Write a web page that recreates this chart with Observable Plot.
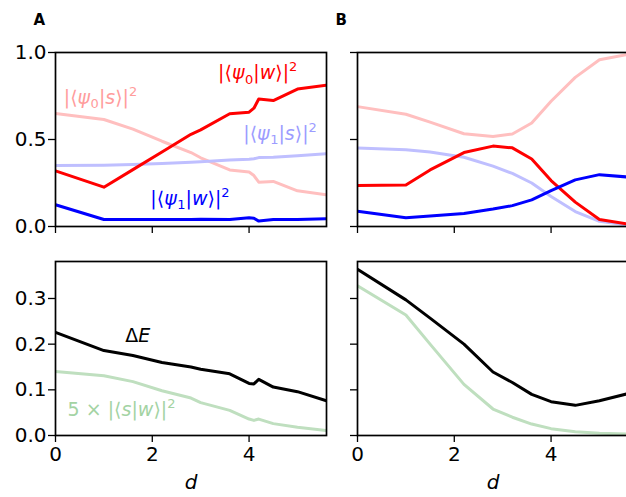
<!DOCTYPE html>
<html><head><meta charset="utf-8">
<script src="https://cdn.jsdelivr.net/npm/d3@7"></script>
<script src="https://cdn.jsdelivr.net/npm/@observablehq/plot@0.6"></script>
<style>
body{margin:0;background:#fff;}
#fig{position:relative;width:626px;height:497px;overflow:hidden;background:#fff;}
#fig svg{position:absolute;overflow:visible;}
</style></head><body><div id="fig"></div>
<script>
// ---- data ----
const xA = [0, 1, 1.6, 2.2, 2.8, 3.0, 3.6, 4.0, 4.1, 4.2, 4.5, 5.0, 5.6];
const A_psi0w = [0.32, 0.226, 0.327, 0.428, 0.53, 0.555, 0.648, 0.657, 0.68, 0.733, 0.724, 0.79, 0.812];
const A_psi0s = [0.65, 0.615, 0.56, 0.49, 0.425, 0.395, 0.325, 0.313, 0.293, 0.255, 0.259, 0.205, 0.182];
const A_psi1s = [0.351, 0.352, 0.356, 0.362, 0.369, 0.372, 0.382, 0.387, 0.389, 0.396, 0.398, 0.407, 0.418];
const A_psi1w = [0.125, 0.040, 0.040, 0.040, 0.040, 0.041, 0.040, 0.050, 0.047, 0.031, 0.040, 0.040, 0.045];
const A_dE = [0.226, 0.186, 0.175, 0.160, 0.150, 0.145, 0.135, 0.114, 0.113, 0.123, 0.106, 0.096, 0.076];
const A_sw5 = [0.140, 0.131, 0.118, 0.098, 0.082, 0.072, 0.055, 0.036, 0.033, 0.036, 0.026, 0.018, 0.011];

const xB = [0, 1, 1.5, 2.2, 2.8, 3.2, 3.6, 4.0, 4.5, 5.0, 5.6];
const B_psi0s = [0.689, 0.645, 0.600, 0.533, 0.517, 0.532, 0.595, 0.720, 0.857, 0.958, 0.990];
const B_psi0w = [0.235, 0.238, 0.325, 0.425, 0.462, 0.452, 0.388, 0.264, 0.140, 0.040, 0.013];
const B_psi1s = [0.451, 0.441, 0.428, 0.398, 0.347, 0.305, 0.250, 0.172, 0.086, 0.030, 0.008];
const B_psi1w = [0.088, 0.050, 0.060, 0.075, 0.100, 0.120, 0.153, 0.206, 0.268, 0.298, 0.284];
const B_dE = [0.364, 0.297, 0.257, 0.200, 0.139, 0.116, 0.090, 0.074, 0.066, 0.076, 0.092];
const B_sw5 = [0.328, 0.264, 0.200, 0.112, 0.058, 0.040, 0.025, 0.015, 0.008, 0.005, 0.003];

const topTicksY = [0, 0.5, 1.0];
const botTicksY = [0, 0.1, 0.2, 0.3];
const ticksX = [0, 2, 4];
const panelLetters = ["A", "B"];
const xLabel = "d";

// annotation labels (text, x, y in data units of panel A)
const topLabels = ["|⟨ψ₀|w⟩|²", "|⟨ψ₀|s⟩|²", "|⟨ψ₁|s⟩|²", "|⟨ψ₁|w⟩|²"];
const topLabelX = [3.36, 0.17, 3.88, 1.96];
const topLabelY = [0.88, 0.74, 0.535, 0.16];
const topLabelColor = ["#ff0000", "#ff9c9c", "#9c9cff", "#0000ff"];
const botLabels = ["ΔE", "5 × |⟨s|w⟩|²"];
const botLabelX = [1.44, 0.25];
const botLabelY = [0.219, 0.055];
const botLabelColor = ["#000000", "#a3d3a3"];

// ---- styles ----
const C = {red: "#ff0000", pink: "#ffbfbf", blue: "#0000ff", lblue: "#bfbfff", green: "#bfdfbf", black: "#000000"};
const FONT = "DejaVu Sans";
const TICKFS = 20;
const NS = "http://www.w3.org/2000/svg";

const fig = document.getElementById("fig");

function series(xs, ys) { return xs.map((x, i) => ({x, y: ys[i]})); }

// render math-like labels: italic symbols, real sub/superscripts
function mathify(svg) {
  const ital = new Set(["ψ", "w", "s", "E", "d"]);
  const sub = {"₀": "0", "₁": "1"};
  const sup = {"²": "2"};
  svg.querySelectorAll("text").forEach(t => {
    const s = t.textContent;
    if (/^[0-9.\-−]*$/.test(s)) return;
    if (![...s].some(c => ital.has(c) || sub[c] || sup[c])) return;
    const fs = parseFloat(t.getAttribute("font-size") || (t.parentNode && t.parentNode.getAttribute("font-size")) || 19);
    t.textContent = "";
    let shift = 0;
    for (const c of s) {
      const ts = document.createElementNS(NS, "tspan");
      let target = 0;
      if (sub[c]) { ts.textContent = sub[c]; ts.setAttribute("font-size", Math.round(fs * 0.7)); target = 0.22 * fs; }
      else if (sup[c]) { ts.textContent = sup[c]; ts.setAttribute("font-size", Math.round(fs * 0.7)); target = -0.42 * fs; }
      else { ts.textContent = c; }
      if (ital.has(c)) ts.setAttribute("font-style", "italic");
      const dy = target - shift;
      if (dy !== 0) ts.setAttribute("dy", dy.toFixed(2));
      shift = target;
      if (sub[c]) ts.setAttribute("dx", "0.5");
      t.appendChild(ts);
    }
  });
}

function build({xs, lines, yDomain, yTicks, showY, showX, letter, labels, left, top, mt, mb, h}) {
  const marks = [];
  for (const l of lines) {
    marks.push(Plot.line(series(xs, l.ys), {x: "x", y: "y", stroke: l.color, strokeWidth: 3, clip: true, strokeLinejoin: "round"}));
  }
  if (labels) {
    marks.push(Plot.text(labels.text.map((t, i) => ({t, x: labels.x[i], y: labels.y[i], c: labels.c[i]})),
      {x: "x", y: "y", text: "t", fill: "c", textAnchor: "start", lineAnchor: "middle", fontSize: 19, fontFamily: FONT}));
  }
  if (letter) {
    marks.push(Plot.text([letter], {text: d => d, frameAnchor: "top-left", dx: -22, dy: -32, textAnchor: "start", lineAnchor: "middle", fontSize: 15, fontWeight: "bold", fontFamily: FONT}));
  }
  if (showX) {
    marks.push(Plot.text([xLabel], {text: d => d, frameAnchor: "bottom", dy: 47, lineAnchor: "middle", fontSize: 20, fontFamily: FONT}));
  }
  marks.push(Plot.axisY({ticks: yTicks, tickSize: 7, tickPadding: 2, tickFormat: showY ? (d => d.toFixed(1)) : (() => ""), fontSize: TICKFS, label: null, strokeWidth: 1.3}));
  marks.push(Plot.axisX({ticks: ticksX, tickSize: 7, tickPadding: 4, tickFormat: showX ? (d => String(d)) : (() => ""), fontSize: TICKFS, label: null, strokeWidth: 1.3}));
  marks.push(Plot.frame({stroke: "black", strokeWidth: 1.7}));
  const svg = Plot.plot({
    width: 330, height: h,
    marginLeft: 55, marginRight: 4, marginTop: mt, marginBottom: mb,
    x: {domain: [0, 5.6]},
    y: {domain: yDomain},
    style: {fontFamily: FONT, color: "black", background: "transparent", overflow: "visible"},
    marks
  });
  mathify(svg);
  svg.style.left = left + "px";
  svg.style.top = top + "px";
  fig.appendChild(svg);
}

// top row: frame y 52..226 ; bottom row: frame y 261..435
build({xs: xA, yDomain: [0, 1], yTicks: topTicksY, showY: true, showX: false, letter: panelLetters[0],
  lines: [{ys: A_psi0s, color: C.pink}, {ys: A_psi1s, color: C.lblue}, {ys: A_psi0w, color: C.red}, {ys: A_psi1w, color: C.blue}],
  labels: {text: topLabels, x: topLabelX, y: topLabelY, c: topLabelColor},
  left: 0, top: 0, mt: 52, mb: 14, h: 240});
build({xs: xB, yDomain: [0, 1], yTicks: topTicksY, showY: false, showX: false, letter: panelLetters[1],
  lines: [{ys: B_psi0s, color: C.pink}, {ys: B_psi1s, color: C.lblue}, {ys: B_psi0w, color: C.red}, {ys: B_psi1w, color: C.blue}],
  left: 302, top: 0, mt: 52, mb: 14, h: 240});
build({xs: xA, yDomain: [0, 0.381], yTicks: botTicksY, showY: true, showX: true,
  lines: [{ys: A_sw5, color: C.green}, {ys: A_dE, color: C.black}],
  labels: {text: botLabels, x: botLabelX, y: botLabelY, c: botLabelColor},
  left: 0, top: 240, mt: 21, mb: 62, h: 257});
build({xs: xB, yDomain: [0, 0.381], yTicks: botTicksY, showY: false, showX: true,
  lines: [{ys: B_sw5, color: C.green}, {ys: B_dE, color: C.black}],
  left: 302, top: 240, mt: 21, mb: 62, h: 257});
</script></body></html>
